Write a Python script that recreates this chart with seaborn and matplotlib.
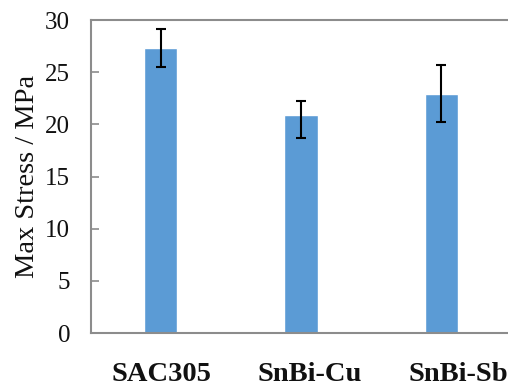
import numpy as np
import pandas as pd
import seaborn as sns
import matplotlib
matplotlib.use('Agg')
from matplotlib import pyplot as plt
from matplotlib.transforms import ScaledTranslation

# ==== values ====
alloys = ['SAC305', 'SnBi-Cu', 'SnBi-Sb']
max_stress = [27.35, 20.95, 22.95]
err_low = [1.85, 2.25, 2.7]
err_high = [1.85, 1.3, 2.75]
yticks = [0, 5, 10, 15, 20, 25, 30]

df = pd.DataFrame({'alloy': alloys, 'stress': max_stress})

sns.set_theme(style='white')
plt.rcParams['font.family'] = ['Liberation Serif', 'DejaVu Serif']

fig = plt.figure(figsize=(5.08, 3.92), dpi=100)
ax = fig.add_axes([0.179, 0.1505, 0.827, 0.798])

sns.barplot(data=df, x='alloy', y='stress', color='#5b9bd5', saturation=1,
            width=0.236, errorbar=None, ax=ax)
ax.errorbar(range(len(alloys)), df['stress'], yerr=[err_low, err_high], fmt='none',
            ecolor='black', elinewidth=1.5, capsize=3.5, capthick=1.5)

ax.set_xlim(-0.5, 2.5)
ax.set_ylim(0, 30)
ax.set_yticks(yticks)
ax.set_xlabel('')
ax.set_ylabel('Max Stress / MPa', fontsize=20.5, color='#111111', labelpad=4)

for side in ['left', 'bottom', 'top', 'right']:
    ax.spines[side].set_color('#8c8c8c')
    ax.spines[side].set_linewidth(1.5)

ax.tick_params(axis='y', direction='in', length=6, width=1.2, color='#8c8c8c',
               labelsize=18, labelcolor='#111111', pad=15, left=True)
ax.tick_params(axis='x', length=0, pad=21, labelsize=20.5, labelcolor='#111111')
# the category labels sit a bit right of the bars in the original
shifts = [0, 9, 17]
for lab, dx in zip(ax.get_xticklabels(), shifts):
    lab.set_fontweight('bold')
    lab.set_transform(lab.get_transform() + ScaledTranslation(dx / 100, 0, fig.dpi_scale_trans))

plt.savefig('out.png', dpi=100)
plt.close()
